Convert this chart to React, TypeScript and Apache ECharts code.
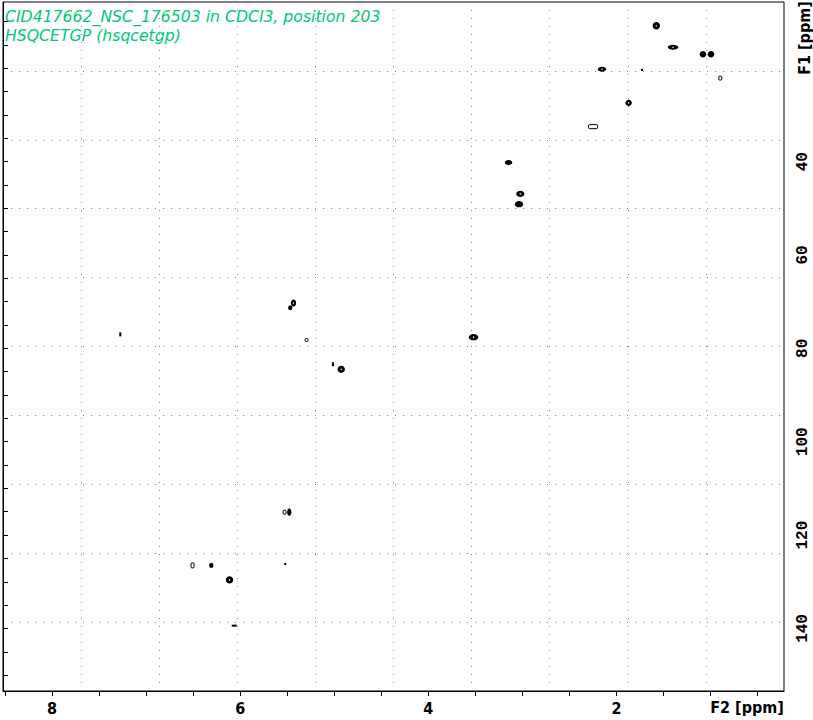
import React, { useEffect, useRef } from "react";
import * as echarts from "echarts";

// Axis ranges (ppm)
const f2Range = [0.221, 8.52];
const f1Range = [5.8, 153.4];

// Tick marks and tick labels
const f2Ticks = [0.5, 1, 1.5, 2, 2.5, 3, 3.5, 4, 4.5, 5, 5.5, 6, 6.5, 7, 7.5, 8, 8.5];
const f2Labels = [2, 4, 6, 8];
const f1Ticks = [10, 15, 20, 25, 30, 35, 40, 45, 50, 55, 60, 65, 70, 75, 80, 85, 90, 95, 100, 105, 110, 115, 120, 125, 130, 135, 140, 145, 150];
const f1Labels = [40, 60, 80, 100, 120, 140];

// Cross peaks drawn as solid contours: F2 shift, F1 shift, F2 extent, F1 extent (ppm)
const solidF2 = [1.578, 1.40, 1.082, 0.997, 2.155, 1.73, 1.872, 3.148, 3.023, 3.037, 5.433, 5.468, 5.014, 4.926, 7.274, 3.52, 5.478, 6.307, 5.521, 6.113, 6.063];
const solidF1 = [10.9, 15.5, 17.0, 17.0, 20.2, 20.35, 27.4, 40.2, 46.9, 49.1, 70.3, 71.3, 83.4, 84.5, 77.0, 77.6, 115.1, 126.5, 126.2, 129.6, 139.4];
const solidW = [0.078, 0.11, 0.07, 0.07, 0.088, 0.021, 0.068, 0.078, 0.088, 0.088, 0.056, 0.045, 0.021, 0.078, 0.021, 0.1, 0.045, 0.045, 0.021, 0.078, 0.053];
const solidH = [1.6, 1.1, 1.4, 1.4, 1.1, 0.43, 1.35, 1.1, 1.35, 1.35, 1.55, 1.1, 0.86, 1.55, 0.86, 1.35, 1.55, 1.1, 0.43, 1.55, 0.43];

// Cross peaks drawn as open (single level) contours
const openF2 = [0.898, 2.25, 5.294, 5.528, 6.506];
const openF1 = [22.1, 32.5, 78.2, 115.1, 126.5];
const openW = [0.032, 0.096, 0.032, 0.032, 0.032];
const openH = [0.86, 0.86, 0.64, 0.86, 1.07];

const titleLines = ["CID417662_NSC_176503 in CDCl3, position 203", "HSQCETGP (hsqcetgp)"];
const f2Name = "F2 [ppm]";
const f1Name = "F1 [ppm]";

const solidData = solidF2.map((v, i) => [v, solidF1[i], solidW[i], solidH[i]]);
const openData = openF2.map((v, i) => [v, openF1[i], openW[i], openH[i]]);

const condensed = "'DejaVu Sans Condensed', 'DejaVu Sans', sans-serif";

export default function App() {
  const ref = useRef<HTMLDivElement>(null);

  useEffect(() => {
    document.body.style.margin = "0";
    if (!ref.current) return;
    const chart = echarts.init(ref.current, undefined, { renderer: "svg" });

    const renderSolid = (params: any, api: any) => {
      const c = api.coord([api.value(0), api.value(1)]);
      const s = api.size([api.value(2), api.value(3)]);
      const w = Math.max(2, Math.abs(s[0]));
      const h = Math.max(2, Math.abs(s[1]));
      const children: any[] = [];
      if (w <= 2.5 || h <= 2.5) {
        children.push({
          type: "rect",
          shape: { x: c[0] - w / 2, y: c[1] - h / 2, width: w, height: h },
          style: { fill: "#000" },
        });
      } else {
        children.push({
          type: "ellipse",
          shape: { cx: c[0], cy: c[1], rx: w / 2, ry: h / 2 },
          style: { fill: "#000" },
        });
        if (w >= 5 && h >= 5) {
          children.push({
            type: "circle",
            shape: { cx: c[0], cy: c[1], r: 0.7 },
            style: { fill: "#fff" },
          });
        }
      }
      return { type: "group", children };
    };

    const renderOpen = (params: any, api: any) => {
      const c = api.coord([api.value(0), api.value(1)]);
      const s = api.size([api.value(2), api.value(3)]);
      const w = Math.abs(s[0]);
      const h = Math.abs(s[1]);
      return {
        type: "rect",
        shape: { x: c[0] - w / 2, y: c[1] - h / 2, width: w, height: h, r: 1 },
        style: { fill: "#fff", stroke: "#000", lineWidth: 1 },
      };
    };

    const gridLine = { show: true, lineStyle: { color: "#808080", type: [1, 7], width: 1 } };

    chart.setOption({
      animation: false,
      backgroundColor: "#ffffff",
      grid: {
        left: 3,
        right: 29,
        top: 2,
        bottom: 29,
        show: true,
        borderColor: "#000",
        borderWidth: 1,
        backgroundColor: "transparent",
      },
      title: {
        text: titleLines.join("\n"),
        left: 5,
        top: 7,
        padding: 0,
        textStyle: {
          color: "#00c878",
          fontStyle: "italic",
          fontWeight: "normal",
          fontFamily: "DejaVu Sans",
          fontSize: 15.7,
          lineHeight: 19,
        },
      },
      xAxis: [
        {
          type: "value",
          position: "bottom",
          inverse: true,
          min: f2Range[0],
          max: f2Range[1],
          axisLine: { show: true, lineStyle: { color: "#000", width: 1 } },
          axisTick: { show: true, length: 5, customValues: f2Ticks, lineStyle: { color: "#000" } },
          axisLabel: {
            show: true,
            customValues: f2Labels,
            margin: 9,
            color: "#000",
            fontFamily: condensed,
            fontWeight: "bold",
            fontSize: 16,
            formatter: (v: number) => String(Math.round(v)),
          },
          splitLine: { show: false },
        },
        {
          type: "value",
          position: "top",
          min: 0,
          max: 10,
          interval: 1,
          axisLine: { show: false },
          axisTick: { show: false },
          axisLabel: { show: false },
          splitLine: gridLine,
        },
      ],
      yAxis: [
        {
          type: "value",
          position: "right",
          inverse: true,
          min: f1Range[0],
          max: f1Range[1],
          axisLine: { show: true, lineStyle: { color: "#000", width: 1 } },
          axisTick: { show: true, length: 5, customValues: f1Ticks, lineStyle: { color: "#000" } },
          axisLabel: {
            show: true,
            customValues: f1Labels,
            rotate: 90,
            margin: 11,
            color: "#000",
            fontFamily: "Liberation Mono",
            fontWeight: "bold",
            fontSize: 16,
            formatter: (v: number) => String(Math.round(v)),
          },
          splitLine: { show: false },
        },
        {
          type: "value",
          position: "left",
          min: 0,
          max: 10,
          interval: 1,
          axisLine: { show: false },
          axisTick: { show: false },
          axisLabel: { show: false },
          splitLine: gridLine,
        },
      ],
      graphic: [
        {
          type: "text",
          x: 747,
          y: 707,
          style: {
            text: f2Name,
            fill: "#000",
            font: "bold 16px " + condensed,
            textAlign: "center",
            textVerticalAlign: "middle",
          },
        },
        {
          type: "text",
          x: 804,
          y: 38,
          rotation: Math.PI / 2,
          style: {
            text: f1Name,
            fill: "#000",
            font: "bold 16px " + condensed,
            textAlign: "center",
            textVerticalAlign: "middle",
          },
        },
      ],
      series: [
        {
          type: "custom",
          name: "solid",
          xAxisIndex: 0,
          yAxisIndex: 0,
          clip: true,
          renderItem: renderSolid,
          encode: { x: 0, y: 1 },
          data: solidData,
          silent: true,
        },
        {
          type: "custom",
          name: "open",
          xAxisIndex: 0,
          yAxisIndex: 0,
          clip: true,
          renderItem: renderOpen,
          encode: { x: 0, y: 1 },
          data: openData,
          silent: true,
        },
      ],
    });

    return () => chart.dispose();
  }, []);

  return (
    <div
      ref={ref}
      style={{ position: "absolute", left: 0, top: 0, width: 813, height: 720 }}
    />
  );
}
